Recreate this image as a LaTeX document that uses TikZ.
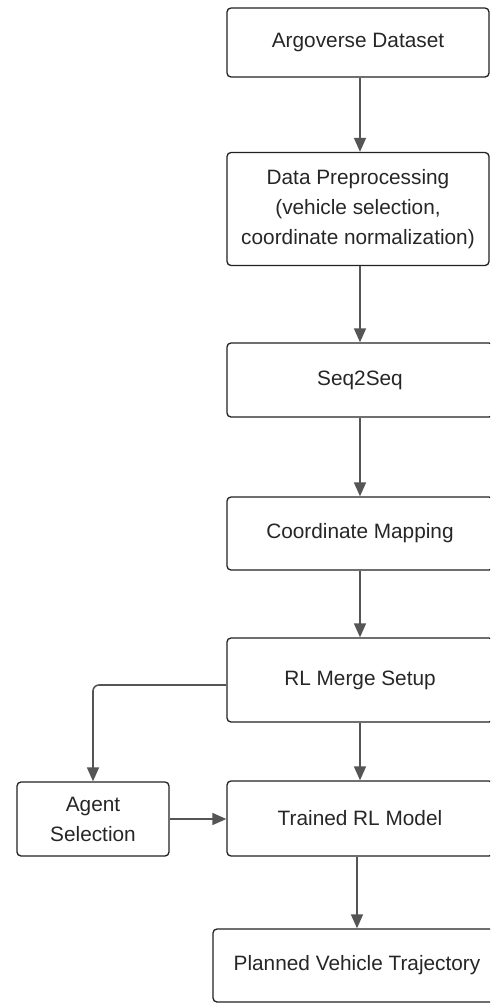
\documentclass[tikz,border=0pt]{standalone}
\usepackage{fontspec}
\setmainfont{Liberation Sans}
\usetikzlibrary{arrows.meta}
\definecolor{arrgray}{HTML}{555555}
\definecolor{boxline}{HTML}{222222}
\begin{document}
\begin{tikzpicture}[x=1pt,y=-1pt,
  box/.style={draw=boxline, line width=1.3pt, rounded corners=4pt, align=center,
    inner sep=0pt, font=\fontsize{20.8}{30}\selectfont, text=black!85},
  arr/.style={draw=arrgray, line width=1.6pt, -{Triangle[width=12pt,length=14pt]}}]
\useasboundingbox (0,0) rectangle (490,1004);
\clip (0,0) rectangle (490,1004);
\node[box, minimum width=262pt, minimum height=69pt] (b1) at (358,42.5) {Argoverse Dataset};
\node[box, minimum width=262pt, minimum height=113pt] (b2) at (358,209) {Data Preprocessing\\(vehicle selection,\\coordinate normalization)};
\node[box, minimum width=266pt, minimum height=74pt] (b3) at (360,380) {Seq2Seq};
\node[box, minimum width=266pt, minimum height=73pt] (b4) at (360,533.5) {Coordinate Mapping};
\node[box, minimum width=266pt, minimum height=84pt] (b5) at (360,680) {RL Merge Setup};
\node[box, minimum width=266pt, minimum height=75pt] (b6) at (360,818.5) {Trained RL Model};
\node[box, minimum width=288pt, minimum height=73pt] (b7) at (357,965.5) {Planned Vehicle Trajectory};
\node[box, minimum width=152pt, minimum height=74pt] (ag) at (93,819) {Agent\\Selection};
\draw[arr] (b1.south -| b3) -- (b2.north -| b3);
\draw[arr] (b2.south -| b3) -- (b3.north);
\draw[arr] (b3.south) -- (b4.north);
\draw[arr] (b4.south) -- (b5.north);
\draw[arr] (b5.south) -- (b6.north);
\draw[arr] (b6.south -| b7) -- (b7.north);
\coordinate (bend) at (93,685);
\draw[arr, rounded corners=6pt] (b5.west |- bend) -- (bend) -- (ag.north);
\draw[arr] (ag.east) -- (b6.west |- ag.east);
\end{tikzpicture}
\end{document}
